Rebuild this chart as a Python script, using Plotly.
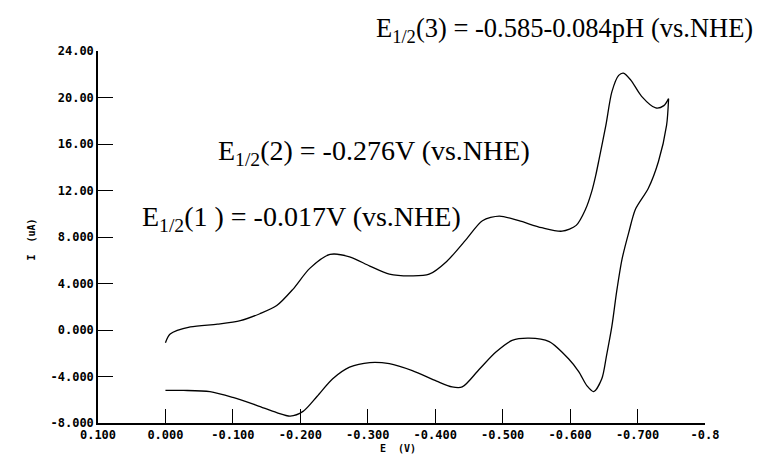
import plotly.graph_objects as go

# Cyclic voltammogram
# forward (cathodic) scan: E in V, I in uA
e_forward = [0.000, -0.007, -0.037, -0.077, -0.111, -0.140, -0.165, -0.189, -0.214, -0.244,
             -0.273, -0.303, -0.332, -0.366, -0.391, -0.417, -0.446, -0.470, -0.495, -0.524,
             -0.558, -0.588, -0.609, -0.623, -0.632, -0.638, -0.643, -0.653, -0.662, -0.672,
             -0.679, -0.690, -0.706, -0.727, -0.739, -0.746]
i_forward = [-1.1, -0.35, 0.26, 0.5, 0.8, 1.4, 2.1, 3.5, 5.3, 6.5,
             6.3, 5.5, 4.8, 4.65, 4.8, 5.9, 7.8, 9.4, 9.8, 9.4,
             8.8, 8.5, 9.0, 10.4, 11.9, 13.3, 14.7, 17.6, 20.5, 21.9,
             22.1, 21.5, 20.1, 19.1, 19.3, 19.9]
# reverse (anodic) scan
e_reverse = [-0.746, -0.743, -0.731, -0.716, -0.697, -0.687, -0.677, -0.669, -0.662, -0.654,
             -0.647, -0.635, -0.625, -0.613, -0.598, -0.569, -0.539, -0.514, -0.490, -0.465,
             -0.440, -0.425, -0.402, -0.366, -0.332, -0.303, -0.273, -0.248, -0.225, -0.204,
             -0.185, -0.165, -0.136, -0.100, -0.066, -0.027, 0.000]
i_reverse = [19.9, 17.6, 14.5, 12.2, 10.4, 8.4, 6.1, 3.3, 0.35, -2.2,
             -4.2, -5.3, -4.8, -3.6, -2.5, -1.0, -0.7, -0.9, -1.9, -3.4,
             -4.9, -4.9, -4.4, -3.5, -2.9, -2.8, -3.2, -4.2, -5.7, -7.0,
             -7.4, -7.1, -6.5, -5.8, -5.3, -5.2, -5.2]

x_tickvals = [0.1, 0.0, -0.1, -0.2, -0.3, -0.4, -0.5, -0.6, -0.7, -0.8]
x_ticktext = ["0.100", "0.000", "-0.100", "-0.200", "-0.300", "-0.400", "-0.500",
              "-0.600", "-0.700", "-0.8"]
y_tickvals = [24, 20, 16, 12, 8, 4, 0, -4, -8]
y_ticktext = ["24.00", "20.00", "16.00", "12.00", "8.000", "4.000", "0.000", "-4.000", "-8.000"]

annotations_text = [
    "E<sub>1/2</sub>(3) = -0.585-0.084pH (vs.NHE)",
    "E<sub>1/2</sub>(2) = -0.276V (vs.NHE)",
    "E<sub>1/2</sub>(1 ) = -0.017V (vs.NHE)",
]

W, H = 781, 461
L, R, T, B = 90, 84, 43, 46
pw, ph = W - L - R, H - T - B


def px(xpix):
    return (xpix - L) / pw


def py(ypix):
    return (H - B - ypix) / ph


fig = go.Figure()
for ex, iy in ((e_forward, i_forward), (e_reverse, i_reverse)):
    fig.add_trace(go.Scatter(x=ex, y=iy, mode="lines",
                             line=dict(color="black", width=1.3, shape="spline", smoothing=0.8),
                             showlegend=False, hoverinfo="skip"))

tickfont = dict(family="DejaVu Sans Mono", size=12, color="black", weight="bold")
fig.update_xaxes(range=[0.1, -0.8], tickvals=x_tickvals, ticktext=x_ticktext,
                 ticks="inside", ticklen=14, tickwidth=1.3, tickcolor="black",
                 showline=True, linecolor="black", linewidth=1.5,
                 showgrid=False, zeroline=False, tickfont=tickfont)
fig.update_yaxes(range=[-8, 24], tickvals=y_tickvals, ticktext=y_ticktext,
                 ticks="inside", ticklen=15, tickwidth=1.3, tickcolor="black",
                 showline=True, linecolor="black", linewidth=1.5,
                 showgrid=False, zeroline=False, tickfont=tickfont)

ann = [
    dict(text=annotations_text[0], x=px(366), y=py(22), size=26.5),
    dict(text=annotations_text[1], x=px(208), y=py(144), size=28),
    dict(text=annotations_text[2], x=px(132), y=py(210), size=28),
]
for a in ann:
    fig.add_annotation(xref="paper", yref="paper", showarrow=False,
                       xanchor="left", yanchor="middle",
                       text=a["text"], x=a["x"], y=a["y"],
                       font=dict(family="Liberation Serif", size=a["size"], color="black"))

fig.add_annotation(text="E  (V)", xref="paper", yref="paper", x=px(390), y=py(448),
                   showarrow=False,
                   font=dict(family="DejaVu Sans Mono", size=10, color="black", weight="bold"))
fig.add_annotation(text="I  (uA)", xref="paper", yref="paper", x=px(15), y=py(232),
                   textangle=-90, showarrow=False,
                   font=dict(family="DejaVu Sans Mono", size=10, color="black", weight="bold"))

fig.update_layout(width=W, height=H, margin=dict(l=L, r=R, t=T, b=B),
                  paper_bgcolor="white", plot_bgcolor="white")
fig.write_html("out.html")
